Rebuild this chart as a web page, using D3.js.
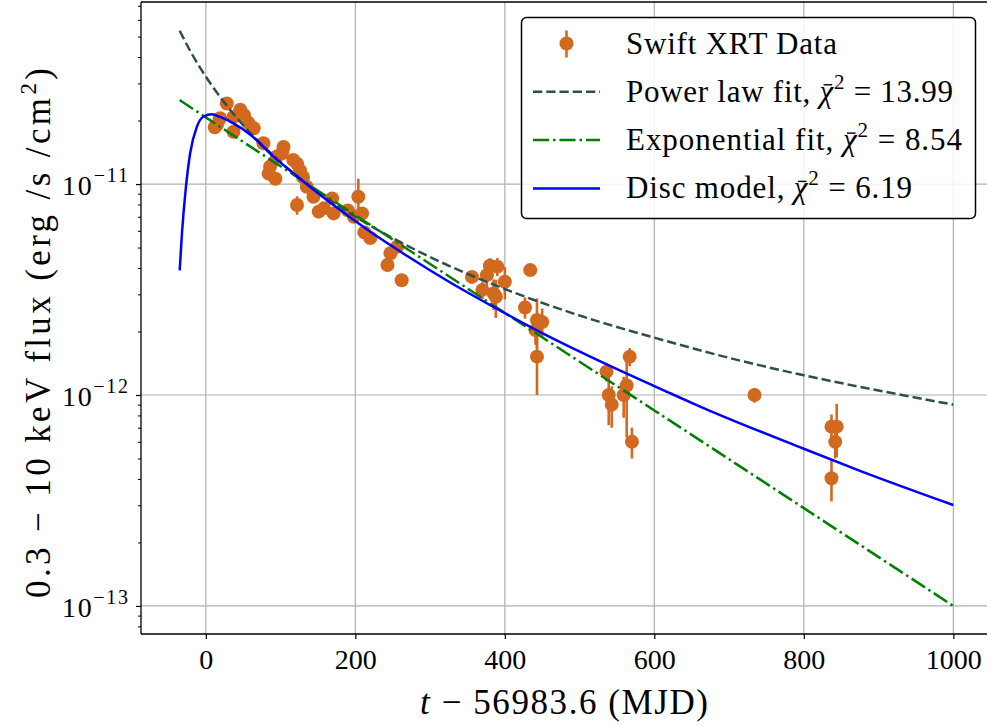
<!DOCTYPE html>
<html>
<head>
<meta charset="utf-8">
<script src="https://cdn.jsdelivr.net/npm/d3@7"></script>
<style>
body { margin: 0; background: #fff; }
svg text { font-family: "Liberation Serif", "DejaVu Serif", serif; fill: #000; }
</style>
</head>
<body>
<div id="vis"></div>
<script>
// Swift XRT points: days since MJD 56983.6, flux (1e-12 erg/s/cm2) and error
const obsTime = [12, 15, 19, 28, 37, 37, 46, 51, 57, 64, 77, 84, 86, 93, 95, 102, 104, 117, 122, 122,
    126, 130, 135, 144, 151, 158, 169, 171, 190, 198, 204, 209, 212, 220, 243, 247, 256, 262,
    356, 370, 376, 380, 385, 388, 390, 400, 427, 434, 441, 443, 443, 450,
    536, 539, 543, 559, 563, 567, 570,
    734, 837, 844, 842, 837];
const obsFlux = [18.6, 19.1, 20.5, 24.1, 20.8, 17.7, 22.5, 21.2, 19.5, 18.4, 15.6, 11.2, 12.1, 10.6, 13.5, 14.0, 15.0, 13.0, 12.5, 7.95,
    11.6, 10.8, 9.7, 8.7, 7.4, 7.67, 8.55, 7.26, 7.5, 7.0, 8.7, 7.26, 5.9, 5.55, 4.13, 4.7, 5.05, 3.5,
    3.63, 3.15, 3.7, 4.1, 3.03, 2.92, 4.06, 3.44, 2.6, 3.91, 2.03, 2.27, 1.52, 2.22,
    1.29, 1.0, 0.90, 1.0, 1.11, 1.52, 0.60,
    1.0, 0.708, 0.708, 0.60, 0.403];
const obsErr = [0.9, 0.9, 1.0, 1.1, 1.0, 0.9, 1.1, 1.0, 1.0, 0.9, 0.8, 0.6, 0.6, 0.5, 0.7, 0.7, 0.8, 0.7, 0.6, 0.8,
    0.6, 0.6, 0.5, 0.5, 0.4, 0.4, 0.5, 0.4, 0.4, 0.4, 1.9, 0.4, 0.3, 0.3, 0.25, 0.3, 0.3, 0.25,
    0.25, 0.3, 0.4, 0.35, 0.5, 0.6, 0.4, 0.6, 0.3, 0.2, 0.3, 0.6, 0.52, 0.35,
    0.13, 0.28, 0.2, 0.22, 0.48, 0.15, 0.1,
    0.08, 0.1, 0.2, 0.1, 0.09];

// fitted curves (flux in 1e-12)
const powerTime = [-35, -20, 0, 25, 50, 100, 150, 200, 300, 400, 500, 600, 700, 800, 900, 1000];
const powerFlux = [53.3, 42.2, 32.3, 24.3, 19.0, 12.7, 9.18, 7.0, 4.51, 3.18, 2.38, 1.87, 1.50, 1.24, 1.05, 0.90];
const expTime = [-35, 0, 200, 400, 600, 800, 1000];
const expFlux = [25.0, 20.7, 7.13, 2.45, 0.845, 0.291, 0.100];
const discTime = [-35, -32, -27, -21, -12, -3, 8, 19, 37, 60, 91, 126, 158, 198, 233, 269, 323, 394, 439, 501, 621, 662, 800, 876, 1000];
const discFlux = [3.9, 5.8, 9.4, 14.0, 18.7, 20.9, 21.4, 20.8, 19.4, 17.1, 13.45, 10.6, 8.61, 6.76, 5.53, 4.57, 3.48, 2.51, 2.06, 1.60, 1.02, 0.879, 0.556, 0.436, 0.301];

const xTicks = [0, 200, 400, 600, 800, 1000];
const yDecades = [-13, -12, -11];
const legendNames = ["Power law fit", "Exponential fit", "Disc model"];
const legendChi2 = ["13.99", "8.54", "6.19"];

const width = 987, height = 725;
const plotLeft = 141, plotRight = 992, plotTop = 2, plotBottom = 634;
const dataColor = "#d2691e";

const svg = d3.select("#vis").append("svg")
    .attr("width", width)
    .attr("height", height);

const x = d3.scaleLinear().domain([-86.75, 1051.75]).range([plotLeft, plotRight]);
const y = d3.scaleLog().domain([Math.pow(10, -13.133), Math.pow(10, -10.137)]).range([plotBottom, plotTop]);
const f = v => v * 1e-12;

svg.append("clipPath").attr("id", "plotclip")
    .append("rect")
    .attr("x", plotLeft).attr("y", plotTop)
    .attr("width", plotRight - plotLeft).attr("height", plotBottom - plotTop);

// grid
const grid = svg.append("g").attr("stroke", "#b0b0b0").attr("stroke-width", 1.2);
grid.selectAll(".gx").data(xTicks).join("line")
    .attr("x1", d => x(d)).attr("x2", d => x(d))
    .attr("y1", plotTop).attr("y2", plotBottom);
grid.selectAll(".gy").data(yDecades).join("line")
    .attr("x1", plotLeft).attr("x2", plotRight)
    .attr("y1", d => y(Math.pow(10, d))).attr("y2", d => y(Math.pow(10, d)));

const plot = svg.append("g").attr("clip-path", "url(#plotclip)");

// data with error bars
const obs = obsTime.map((t, i) => ({ t: t, v: f(obsFlux[i]), e: f(obsErr[i]) }));
plot.append("g").selectAll("line").data(obs).join("line")
    .attr("x1", d => x(d.t)).attr("x2", d => x(d.t))
    .attr("y1", d => y(d.v - d.e)).attr("y2", d => y(d.v + d.e))
    .attr("stroke", dataColor).attr("stroke-width", 2.6);
plot.append("g").selectAll("circle").data(obs).join("circle")
    .attr("cx", d => x(d.t)).attr("cy", d => y(d.v))
    .attr("r", 7)
    .attr("fill", dataColor);

// model curves
const line = d3.line()
    .x(d => x(d[0]))
    .y(d => y(d[1]))
    .curve(d3.curveMonotoneX);

const styles = [
    { color: "#2f4f4f", dash: "9.25,4" },
    { color: "#008000", dash: "16,4,2.5,4" },
    { color: "#0000ff", dash: null }
];
const curves = [
    powerTime.map((t, i) => [t, f(powerFlux[i])]),
    expTime.map((t, i) => [t, f(expFlux[i])]),
    discTime.map((t, i) => [t, f(discFlux[i])])
];
curves.forEach((c, i) => {
    plot.append("path")
        .attr("d", line(c))
        .attr("fill", "none")
        .attr("stroke", styles[i].color)
        .attr("stroke-width", 2.5)
        .attr("stroke-dasharray", styles[i].dash);
});

// x axis
const xAxis = svg.append("g")
    .attr("transform", "translate(0," + plotBottom + ")")
    .call(d3.axisBottom(x).tickValues(xTicks).tickFormat(d3.format("d"))
        .tickSize(5).tickSizeOuter(0).tickPadding(10));
xAxis.select(".domain").remove();
xAxis.selectAll("line").attr("stroke-width", 1.2);
xAxis.selectAll("text")
    .attr("font-family", "Liberation Serif")
    .attr("font-size", 28);

// y axis: major and minor ticks
const minor = [];
[-14, -13, -12, -11].forEach(e => {
    for (let m = 2; m <= 9; m++) {
        const v = m * Math.pow(10, e);
        if (v > y.domain()[0] && v < y.domain()[1]) minor.push(v);
    }
});
svg.append("g")
    .attr("transform", "translate(" + plotLeft + ",0)")
    .call(d3.axisLeft(y).tickValues(minor).tickSize(3).tickFormat(""))
    .call(g => g.select(".domain").remove())
    .selectAll("line").attr("stroke-width", 1);
svg.append("g")
    .attr("transform", "translate(" + plotLeft + ",0)")
    .call(d3.axisLeft(y).tickValues(yDecades.map(e => Math.pow(10, e))).tickSize(5).tickFormat(""))
    .call(g => g.select(".domain").remove())
    .selectAll("line").attr("stroke-width", 1.2);

const yLab = svg.append("g").selectAll("text").data(yDecades).join("text")
    .attr("x", 128)
    .attr("y", d => y(Math.pow(10, d)) + 11)
    .attr("text-anchor", "end")
    .attr("font-size", 28)
    .attr("textLength", 66)
    .attr("lengthAdjust", "spacing");
yLab.append("tspan").text("10");
yLab.append("tspan").attr("dy", -13).attr("font-size", 20).text(d => "\u2212" + Math.abs(d));

// spines
const spine = svg.append("g").attr("stroke", "#000").attr("stroke-width", 1.3);
spine.append("line").attr("x1", plotLeft).attr("x2", plotLeft).attr("y1", plotTop).attr("y2", plotBottom);
spine.append("line").attr("x1", plotLeft).attr("x2", plotRight).attr("y1", plotBottom).attr("y2", plotBottom);
spine.append("line").attr("x1", plotLeft).attr("x2", plotRight).attr("y1", plotTop).attr("y2", plotTop);

// axis labels
const xl = svg.append("text")
    .attr("x", 564).attr("y", 714)
    .attr("text-anchor", "middle")
    .attr("font-size", 35)
    .attr("textLength", 288)
    .attr("lengthAdjust", "spacing");
xl.append("tspan").attr("font-style", "italic").text("t");
xl.append("tspan").text(" \u2212 56983.6 (MJD)");

const yl = svg.append("text")
    .attr("transform", "translate(50,333) rotate(-90)")
    .attr("text-anchor", "middle")
    .attr("font-size", 35)
    .attr("textLength", 530)
    .attr("lengthAdjust", "spacing");
yl.append("tspan").text("0.3 \u2212 10 keV flux (erg /s /cm");
yl.append("tspan").attr("dy", -14).attr("font-size", 23).text("2");
yl.append("tspan").attr("dy", 14).text(")");

// legend
const lg = svg.append("g");
lg.append("rect")
    .attr("x", 521.5).attr("y", 17.5)
    .attr("width", 454).attr("height", 201)
    .attr("rx", 5)
    .attr("fill", "#fff").attr("fill-opacity", 0.85)
    .attr("stroke", "#000").attr("stroke-width", 1.5);

const rowY = i => 43.5 + i * 48.3;
const rowWidth = [211, 327, 336, 286];
lg.append("line")
    .attr("x1", 566.5).attr("x2", 566.5)
    .attr("y1", rowY(0) - 13).attr("y2", rowY(0) + 14)
    .attr("stroke", dataColor).attr("stroke-width", 2.6);
lg.append("circle").attr("cx", 566.5).attr("cy", rowY(0)).attr("r", 7).attr("fill", dataColor);
lg.append("text").attr("x", 626).attr("y", rowY(0) + 10).attr("font-size", 31)
    .attr("textLength", rowWidth[0]).attr("lengthAdjust", "spacing")
    .text("Swift XRT Data");

legendNames.forEach((name, i) => {
    const cy = rowY(i + 1);
    lg.append("line")
        .attr("x1", 533).attr("x2", 600)
        .attr("y1", cy).attr("y2", cy)
        .attr("stroke", styles[i].color)
        .attr("stroke-width", 2.5)
        .attr("stroke-dasharray", styles[i].dash);
    const t = lg.append("text").attr("x", 626).attr("y", cy + 10).attr("font-size", 31)
        .attr("textLength", rowWidth[i + 1]).attr("lengthAdjust", "spacing");
    const head = name + ", ";
    t.append("tspan").text(head);
    t.append("tspan").attr("font-style", "italic").text("\u03c7");
    t.append("tspan").attr("dy", -13).attr("font-size", 21).text("2");
    t.append("tspan").attr("dy", 13).text(" = " + legendChi2[i]);
    // bar over chi
    const ext = t.node().getExtentOfChar(head.length);
    lg.append("line")
        .attr("x1", ext.x + 4).attr("x2", ext.x + ext.width - 1)
        .attr("y1", cy - 7).attr("y2", cy - 7)
        .attr("stroke", "#000").attr("stroke-width", 1.4);
});
</script>
</body>
</html>
